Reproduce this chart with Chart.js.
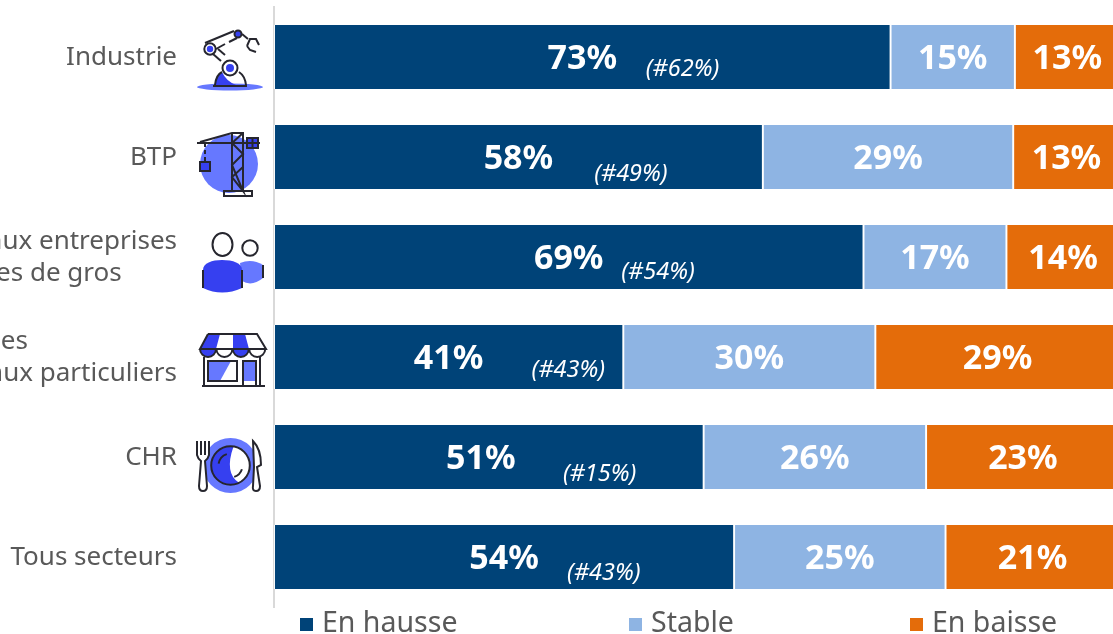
<!DOCTYPE html>
<html lang="fr">
<head>
<meta charset="utf-8">
<title>Carnets de commandes par secteur</title>
<style>
	html, body { margin: 0; padding: 0; background: #fff; overflow: hidden; }
	#chart-box { position: relative; width: 1113px; height: 634px; }
</style>
</head>
<body>
<div id="chart-box"><canvas id="sector-chart"></canvas></div>
<script src="https://cdn.jsdelivr.net/npm/chart.js@4/dist/chart.umd.min.js"></script>
<script>
const categories = [
	["Industrie"],
	["BTP"],
	["Services aux entreprises", "commerces de gros"],
	["Commerces", "Services aux particuliers"],
	["CHR"],
	["Tous secteurs"],
];
const seriesNames = ["En hausse", "Stable", "En baisse"];

// bar lengths, printed labels are kept apart (they are rounded in the source)
const hausse = [72.9, 57.8, 69.7, 41.3, 50.8, 54.4];
const stable = [14.7, 29.6, 16.9, 29.8, 26.3, 25.0];
const baisse = [12.4, 12.6, 13.4, 28.9, 22.9, 20.6];
const hausseLabels = ["73%", "58%", "69%", "41%", "51%", "54%"];
const stableLabels = ["15%", "29%", "17%", "30%", "26%", "25%"];
const baisseLabels = ["13%", "13%", "14%", "29%", "23%", "21%"];
const previousLabels = ["(#62%)", "(#49%)", "(#54%)", "(#43%)", "(#15%)", "(#43%)"];
const previousAt = [48.3, 42.2, 45.4, 34.8, 38.5, 39.0];
const previousDrop = [12, 17, 15, 13, 17, 16];

const DARK = "#004378";
const LIGHT = "#8EB4E3";
const ORANGE = "#E46C0A";
const TEXT = "#595959";
const ICON_BLUE = "#3640F0";
const ICON_SOFT = "#6678FF";
const ICON_LINE = "#26262E";
const FONT = '"Noto Sans", sans-serif';

function line(ctx, points) {
	ctx.beginPath();
	points.forEach(([x, y], i) => (i ? ctx.lineTo(x, y) : ctx.moveTo(x, y)));
	ctx.stroke();
}

function disc(ctx, x, y, r, fill, stroke) {
	ctx.beginPath();
	ctx.arc(x, y, r, 0, Math.PI * 2);
	if (fill) {
		ctx.fillStyle = fill;
		ctx.fill();
	}
	if (stroke) ctx.stroke();
}

function drawRobot(ctx) {
	ctx.fillStyle = ICON_SOFT;
	ctx.beginPath();
	ctx.ellipse(0, 30, 33, 3.5, 0, 0, Math.PI * 2);
	ctx.fill();
	ctx.fillStyle = ICON_BLUE;
	ctx.beginPath();
	ctx.moveTo(-15, 28);
	ctx.quadraticCurveTo(-14, 18, -8, 15);
	ctx.quadraticCurveTo(-4, 24, 6, 28);
	ctx.closePath();
	ctx.fill();
	ctx.beginPath();
	ctx.moveTo(-15, 28);
	ctx.quadraticCurveTo(-14, 18, -8, 15);
	ctx.moveTo(9, 15);
	ctx.quadraticCurveTo(15, 19, 16, 28);
	ctx.stroke();
	line(ctx, [[-17, 29], [17, 29]]);
	line(ctx, [[-25, -14], [4, -26]]);
	line(ctx, [[-14, -8], [-5, -13]]);
	line(ctx, [[-1, -15], [7, -19]]);
	line(ctx, [[-17, -3], [-9, 4]]);
	line(ctx, [[-12, -8], [-5, -2]]);
	line(ctx, [[12, -23], [18, -18]]);
	disc(ctx, 0, 11, 7.5, "#fff", true);
	disc(ctx, 0, 11, 4, ICON_BLUE);
	disc(ctx, -20, -8, 5.7, "#fff", true);
	disc(ctx, -20, -8, 3.2, ICON_BLUE);
	disc(ctx, 8, -23, 3.5, ICON_BLUE, true);
	line(ctx, [[17, -11], [20, -18], [26, -18], [29, -12]]);
	line(ctx, [[17, -11], [20, -7], [26, -5]]);
}

function drawCrane(ctx) {
	disc(ctx, -1, 7, 29, ICON_SOFT);
	line(ctx, [[-33, -14], [30, -14]]);
	line(ctx, [[-30, -15], [2, -24], [13, -24], [13, 34]]);
	line(ctx, [[2, -24], [2, 34]]);
	line(ctx, [[2, -14], [13, -24]]);
	line(ctx, [[2, -14], [13, -3], [2, 8], [13, 34], [2, 20], [13, 10]]);
	ctx.strokeRect(-6, 34, 28, 5);
	ctx.setLineDash([4, 3]);
	line(ctx, [[-25, -14], [-25, 4]]);
	ctx.setLineDash([]);
	ctx.fillStyle = ICON_BLUE;
	ctx.fillRect(-30, 5, 10, 9);
	ctx.strokeRect(-30, 5, 10, 9);
	ctx.fillRect(17, -19, 11, 10);
	ctx.strokeRect(17, -19, 11, 10);
	line(ctx, [[22.5, -19], [22.5, -9]]);
	line(ctx, [[17, -14], [28, -14]]);
}

function drawPeople(ctx) {
	ctx.fillStyle = ICON_SOFT;
	ctx.beginPath();
	ctx.moveTo(10, 6);
	ctx.quadraticCurveTo(22, 1, 33, 8);
	ctx.lineTo(33, 21);
	ctx.quadraticCurveTo(22, 30, 12, 24);
	ctx.closePath();
	ctx.fill();
	ctx.fillStyle = ICON_BLUE;
	ctx.beginPath();
	ctx.moveTo(-27, 31);
	ctx.lineTo(-27, 13);
	ctx.bezierCurveTo(-27, 6, -18, 3, -8, 3);
	ctx.bezierCurveTo(3, 3, 12, 6, 12, 13);
	ctx.lineTo(12, 31);
	ctx.quadraticCurveTo(-8, 40, -27, 31);
	ctx.closePath();
	ctx.fill();
	ctx.beginPath();
	ctx.ellipse(-7.5, -12.5, 10, 11.5, 0, 0, Math.PI * 2);
	ctx.stroke();
	disc(ctx, 20, -9, 7.7, null, true);
	line(ctx, [[-27, 31], [-27, 13]]);
	line(ctx, [[12, 31], [12, 13]]);
	line(ctx, [[33, 21], [33, 8]]);
}

function drawShop(ctx) {
	ctx.fillStyle = ICON_SOFT;
	ctx.beginPath();
	ctx.moveTo(-22, 4);
	ctx.lineTo(1, 4);
	ctx.lineTo(-10, 24);
	ctx.lineTo(-22, 24);
	ctx.closePath();
	ctx.fill();
	ctx.fillRect(13, 4, 13, 20);
	ctx.fillStyle = ICON_BLUE;
	ctx.beginPath();
	ctx.moveTo(-22, -23);
	ctx.lineTo(-10, -23);
	ctx.lineTo(-14, -8);
	ctx.arc(-22, -8, 8, 0, Math.PI);
	ctx.closePath();
	ctx.fill();
	ctx.beginPath();
	ctx.moveTo(3, -23);
	ctx.lineTo(15, -23);
	ctx.lineTo(19, -8);
	ctx.arc(11, -8, 8, 0, Math.PI);
	ctx.closePath();
	ctx.fill();
	line(ctx, [[-22, -23], [27, -23], [36, -8], [-30, -8], [-22, -23]]);
	for (let i = 0; i < 4; i += 1) {
		ctx.beginPath();
		ctx.arc(-22 + i * 16.4, -8, 8, 0, Math.PI);
		ctx.stroke();
	}
	line(ctx, [[-26, 0], [-26, 29]]);
	line(ctx, [[30, 0], [30, 29]]);
	line(ctx, [[-28, 29], [35, 29]]);
	ctx.strokeRect(-22, 4, 29, 20);
	line(ctx, [[13, 29], [13, 4], [26, 4], [26, 29]]);
}

function drawPlate(ctx) {
	disc(ctx, 0.5, 8.5, 27.5, ICON_SOFT);
	disc(ctx, 0.5, 8.5, 19.3, "#fff");
	ctx.fillStyle = ICON_BLUE;
	ctx.beginPath();
	ctx.arc(0.5, 8.5, 19.3, Math.PI * 0.35, Math.PI * 1.55);
	ctx.quadraticCurveTo(-6, 16, 9, 25.8);
	ctx.closePath();
	ctx.fill();
	disc(ctx, 0.5, 8.5, 19.3, null, true);
	ctx.beginPath();
	ctx.arc(0.5, 8.5, 12, Math.PI * 1.05, Math.PI * 1.4);
	ctx.stroke();
	ctx.beginPath();
	ctx.arc(0.5, 8.5, 12, Math.PI * 0.1, Math.PI * 0.4);
	ctx.stroke();
	ctx.fillStyle = "#fff";
	ctx.beginPath();
	ctx.moveTo(-33, -16);
	ctx.lineTo(-33, -2);
	ctx.quadraticCurveTo(-32, 2, -29, 4);
	ctx.lineTo(-31, 29);
	ctx.quadraticCurveTo(-31, 34, -27, 34);
	ctx.quadraticCurveTo(-23, 34, -23, 29);
	ctx.lineTo(-25, 4);
	ctx.quadraticCurveTo(-22, 2, -21, -2);
	ctx.lineTo(-21, -16);
	ctx.fill();
	ctx.stroke();
	line(ctx, [[-29, -16], [-29, -2]]);
	line(ctx, [[-25, -16], [-25, -2]]);
	ctx.beginPath();
	ctx.moveTo(23, -16);
	ctx.quadraticCurveTo(31, -8, 31, 8);
	ctx.lineTo(27, 10);
	ctx.lineTo(30, 29);
	ctx.quadraticCurveTo(30, 34, 26, 34);
	ctx.quadraticCurveTo(22, 34, 23, 29);
	ctx.lineTo(24, 10);
	ctx.closePath();
	ctx.fill();
	ctx.stroke();
}

const icons = [drawRobot, drawCrane, drawPeople, drawShop, drawPlate];

const sectorLabels = {
	id: "sectorLabels",
	afterDatasetsDraw(chart) {
		const { ctx, scales } = chart;
		const yScale = scales.y;
		ctx.save();
		ctx.font = `26px ${FONT}`;
		ctx.fillStyle = TEXT;
		ctx.textAlign = "left";
		ctx.textBaseline = "middle";
		categories.forEach((lines, i) => {
			const mid = yScale.getPixelForValue(i) + 1;
			const widest = Math.max(...lines.map((text) => ctx.measureText(text).width));
			lines.forEach((text, n) => {
				ctx.fillText(text, 177 - widest, mid + (n - (lines.length - 1) / 2) * 32);
			});
		});
		ctx.restore();

		// pictograms next to each sector, the last row has none
		icons.forEach((draw, i) => {
			ctx.save();
			ctx.translate(230, yScale.getPixelForValue(i));
			ctx.strokeStyle = ICON_LINE;
			ctx.lineWidth = 2;
			draw(ctx);
			ctx.restore();
		});
	},
};

const valueLabels = {
	id: "valueLabels",
	afterDatasetsDraw(chart) {
		const { ctx, scales } = chart;
		const printed = [hausseLabels, stableLabels, baisseLabels];
		ctx.save();
		ctx.textAlign = "center";
		ctx.textBaseline = "middle";
		ctx.fillStyle = "#fff";
		ctx.font = `700 34px ${FONT}`;
		printed.forEach((labels, d) => {
			chart.getDatasetMeta(d).data.forEach((bar, i) => {
				const right = Math.min(bar.x, scales.x.right + 7);
				// the CHR label sits a little left of its bar centre in the source
				const nudge = d === 0 && categories[i][0] === "CHR" ? -8 : 0;
				ctx.fillText(labels[i], (bar.base + right) / 2 + nudge, bar.y + 2);
			});
		});
		ctx.font = `italic 23.5px ${FONT}`;
		previousLabels.forEach((text, i) => {
			ctx.fillText(text, scales.x.getPixelForValue(previousAt[i]), scales.y.getPixelForValue(i) + previousDrop[i]);
		});
		ctx.restore();
	},
};

const spacedLegend = {
	id: "spacedLegend",
	afterDraw(chart) {
		const { ctx } = chart;
		const slots = [300, 629, 910];
		ctx.save();
		ctx.font = `28.5px ${FONT}`;
		ctx.textBaseline = "alphabetic";
		chart.data.datasets.forEach((set, i) => {
			ctx.fillStyle = set.backgroundColor;
			ctx.fillRect(slots[i], 618, 13, 13);
			ctx.fillStyle = TEXT;
			ctx.fillText(set.label, slots[i] + 22, 632);
		});
		ctx.restore();
	},
};

new Chart(document.getElementById("sector-chart"), {
	type: "bar",
	data: {
		labels: categories,
		datasets: [
			{ label: seriesNames[0], data: hausse, backgroundColor: DARK },
			{ label: seriesNames[1], data: stable, backgroundColor: LIGHT },
			{ label: seriesNames[2], data: baisse, backgroundColor: ORANGE },
		].map((set) => ({
			...set,
			barThickness: 64,
			borderColor: "#fff",
			borderWidth: { left: 1.3, right: 1.3 },
			borderSkipped: false,
		})),
	},
	options: {
		indexAxis: "y",
		responsive: true,
		maintainAspectRatio: false,
		animation: false,
		layout: { padding: { top: 7, bottom: 27, left: 0, right: 0 } },
		plugins: { legend: { display: false }, tooltip: { enabled: false } },
		scales: {
			x: { stacked: true, display: false, min: 0, max: 99.2 },
			y: {
				stacked: true,
				grid: { display: false },
				border: { color: "#D9D9D9", width: 2 },
				ticks: { display: false },
				afterFit(scale) {
					scale.width = 274;
				},
			},
		},
	},
	plugins: [sectorLabels, valueLabels, spacedLegend],
});
</script>
</body>
</html>
